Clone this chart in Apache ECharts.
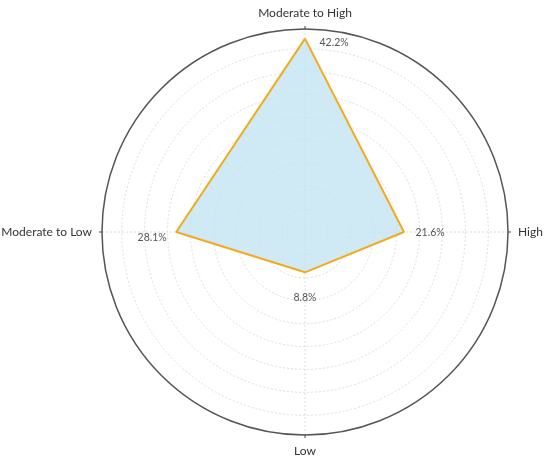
<!DOCTYPE html>
<html>
<head>
<meta charset="utf-8">
<script src="https://cdn.jsdelivr.net/npm/echarts@6/dist/echarts.min.js"></script>
<style>html,body{margin:0;padding:0;background:#fff;}#c{width:550px;height:458px;}</style>
</head>
<body>
<div id="c"></div>
<script>
const categories = ['Moderate to High', 'High', 'Low', 'Moderate to Low'];
const values = [42.2, 21.6, 8.8, 28.1];
const radiusMax = 44.3;
const radiusStep = 5;

const step = 360 / categories.length;
const labelPlace = [
  {position: 'right', offset: [9, 4]},
  {position: 'right', offset: [6, 1]},
  {position: 'bottom', offset: [0, 14]},
  {position: 'left', offset: [-4, 6]}
];

const seriesData = values.map((v, i) => ({
  value: [v, i * step],
  label: {show: true, position: labelPlace[i].position, offset: labelPlace[i].offset}
}));
seriesData.push({value: [values[0], 360], label: {show: false}});

const chart = echarts.init(document.getElementById('c'));
chart.setOption({
  animation: false,
  backgroundColor: '#fff',
  polar: {center: [305, 232], radius: 203},
  angleAxis: {
    type: 'value',
    min: 0,
    max: 360,
    interval: step,
    startAngle: 90,
    clockwise: true,
    axisLine: {show: true, lineStyle: {color: '#555', width: 1.5}},
    axisTick: {show: true, length: 3, lineStyle: {color: '#444'}},
    axisLabel: {
      margin: 10, fontSize: 12, color: '#333', fontFamily: 'Lato',
      formatter: v => (v >= 360 ? '' : categories[Math.round(v / step)])
    },
    splitLine: {show: true, lineStyle: {color: '#dcdcdc', type: [2, 2], width: 1}}
  },
  radiusAxis: {
    type: 'value',
    min: 0,
    max: radiusMax,
    interval: radiusStep,
    axisLine: {show: false},
    axisTick: {show: false},
    axisLabel: {show: false},
    splitLine: {show: true, lineStyle: {color: '#dedede', type: [2, 2], width: 1}}
  },
  series: [{
    type: 'line',
    coordinateSystem: 'polar',
    data: seriesData,
    symbol: 'circle',
    symbolSize: 1,
    itemStyle: {color: 'rgba(0,0,0,0)'},
    lineStyle: {color: '#F3AA1C', width: 2},
    areaStyle: {color: 'rgba(195, 227, 243, 0.8)', opacity: 1},
    label: {
      fontSize: 10.5,
      color: '#555',
      fontFamily: 'Lato',
      formatter: p => p.value[0] + '%'
    },
    z: 3
  }]
});
</script>
</body>
</html>
